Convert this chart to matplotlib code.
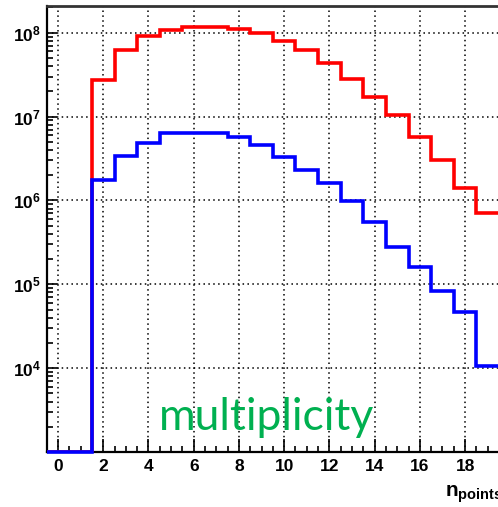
import numpy as np
import matplotlib
matplotlib.use("Agg")
import matplotlib.pyplot as plt
from matplotlib.ticker import LogLocator, MultipleLocator, NullFormatter, FixedLocator, FixedFormatter

plt.rcParams['mathtext.fontset'] = 'custom'
plt.rcParams['mathtext.rm'] = 'Liberation Sans:bold'
plt.rcParams['mathtext.bf'] = 'Liberation Sans:bold'
plt.rcParams['mathtext.it'] = 'Liberation Sans:bold'
plt.rcParams['mathtext.default'] = 'bf'
plt.rcParams['font.family'] = 'Liberation Sans'

# Data: histogram bins centred at n = 0..19
n_points = np.arange(0, 20)
red_counts = [0, 0, 2.7e7, 6.2e7, 9.1e7, 1.07e8, 1.17e8, 1.17e8, 1.12e8, 1.0e8,
              7.9e7, 6.2e7, 4.4e7, 2.8e7, 1.72e7, 1.04e7, 5.7e6, 3.0e6, 1.41e6, 7.1e5]
blue_counts = [0, 0, 1.76e6, 3.4e6, 4.9e6, 6.3e6, 6.3e6, 6.3e6, 5.7e6, 4.55e6,
               3.27e6, 2.33e6, 1.62e6, 9.8e5, 5.5e5, 2.8e5, 1.6e5, 8.4e4, 4.7e4, 1.05e4]
x_ticks = [0, 2, 4, 6, 8, 10, 12, 14, 16, 18]
y_ticks = [1e4, 1e5, 1e6, 1e7, 1e8]
y_ticklabels = [r'$10^{4}$', r'$10^{5}$', r'$10^{6}$', r'$10^{7}$', r'$10^{8}$']
y_min, y_max = 1e3, 2.1e8

fig = plt.figure(figsize=(4.98, 5.07), dpi=100)
ax = fig.add_axes([0.0938, 0.1085, 0.9082, 0.8803])

edges = np.append(n_points - 0.5, n_points[-1] + 0.5)
ax.set_yscale('log')
ax.set_xlim(edges[0], edges[-1])
ax.set_ylim(y_min, y_max)

# empty bins are drawn on the lower frame, as ROOT does
red_draw = np.clip(red_counts, y_min, None)
blue_draw = np.clip(blue_counts, y_min, None)
ax.stairs(red_draw, edges, color='#ff0000', linewidth=2.6, zorder=3, baseline=None)
ax.stairs(blue_draw, edges, color='#0000ff', linewidth=2.6, zorder=4, baseline=None, clip_on=False)

ax.set_xticks(x_ticks)
ax.set_xticklabels([str(t) for t in x_ticks])
ax.xaxis.set_minor_locator(MultipleLocator(0.5))
ax.yaxis.set_major_locator(FixedLocator(y_ticks))
ax.yaxis.set_major_formatter(FixedFormatter(y_ticklabels))
ax.yaxis.set_minor_locator(LogLocator(base=10, subs=np.arange(2, 10), numticks=20))
ax.yaxis.set_minor_formatter(NullFormatter())

ax.tick_params(axis='both', which='both', direction='in', colors='black',
               labelsize=12.5, width=1.2)
ax.tick_params(axis='x', which='major', length=9.5, pad=5, top=False)
ax.tick_params(axis='x', which='minor', length=4.5, top=False)
ax.tick_params(axis='y', which='major', length=7, pad=4, right=False)
ax.tick_params(axis='y', which='minor', length=4.5, right=False)
for lab in ax.get_xticklabels() + ax.get_yticklabels():
    lab.set_fontweight('bold')

ax.grid(True, which='major', linestyle=(0, (1, 2.2)), color='black', linewidth=1.1)
ax.set_axisbelow(True)

for s in ['left', 'bottom']:
    ax.spines[s].set_linewidth(1.6)
ax.spines['top'].set_linewidth(2.0)
ax.spines['top'].set_color('#333333')
ax.spines['right'].set_visible(False)

fig.text(0.893, 0.0203, r'$\mathbf{n}_{\mathbf{points}}$', fontsize=15, ha='left', va='baseline')

fig.text(0.536, 0.152, 'multiplicity', family='Lato',
         fontsize=32, color='#00b050', ha='center', va='baseline', zorder=5)

fig.savefig('out.png', dpi=100)
